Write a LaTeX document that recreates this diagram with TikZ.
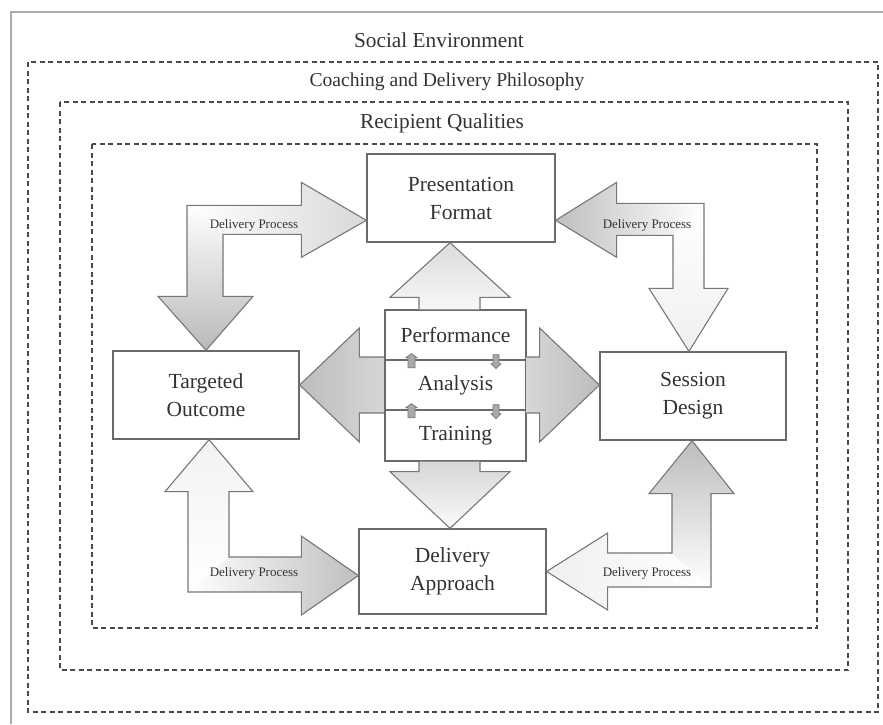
\documentclass[tikz,border=0pt]{standalone}
\usepackage{fontspec}
\setmainfont{Liberation Serif}
\usetikzlibrary{calc}

\definecolor{ink}{HTML}{333333}
\definecolor{edge}{HTML}{6A6A6A}
\definecolor{arrowedge}{HTML}{777777}
\definecolor{framecol}{HTML}{4A4A4A}
\definecolor{rimcol}{HTML}{ABABAB}
\definecolor{markfill}{HTML}{A9A9A9}

\tikzset{
  stagebox/.style={draw=edge, line width=1.3pt, fill=white, inner sep=0pt,
    align=center, text=ink, font=\fontsize{21.5}{28}\selectfont},
  corecell/.style={stagebox, minimum width=141pt},
  layertitle/.style={text=ink, font=\fontsize{21.3}{26}\selectfont, inner sep=0pt},
  dplabel/.style={text=ink, font=\fontsize{13}{15}\selectfont, inner sep=0pt},
  dashframe/.style={draw=framecol, line width=1.8pt, dash pattern=on 5pt off 3.5pt},
  arrowline/.style={draw=arrowedge, line width=1.1pt, line join=miter},
  marklines/.style={draw=arrowedge, fill=markfill, line width=0.8pt},
  upmark/.pic={\path[marklines] (-3.5,7) -- (-3.5,-3) -- (-5.5,-3) -- (0,-7)
      -- (5.5,-3) -- (3.5,-3) -- (3.5,7) -- cycle;},
  downmark/.pic={\path[marklines] (-3,-6) -- (-3,3) -- (-5,3) -- (0,8)
      -- (5,3) -- (3,3) -- (3,-6) -- cycle;},
}

% Elbow arrow built from named points o,h1..h5,i,v1..v5:
% horizontal and vertical limbs carry their own gradient, then one outline.
\newcommand\elbowarrow[2]{%
  \shade[#1] (o) -- (h1) -- (h2) -- (h3) -- (h4) -- (h5) -- (i) -- cycle;
  \shade[#2] (o) -- (i) -- (v1) -- (v2) -- (v3) -- (v4) -- (v5) -- cycle;
  \path[arrowline] (o) -- (h1) -- (h2) -- (h3) -- (h4) -- (h5) -- (i)
    -- (v1) -- (v2) -- (v3) -- (v4) -- (v5) -- cycle;}

\begin{document}
\begin{tikzpicture}[x=1pt,y=-1pt]
\useasboundingbox (0,0) rectangle (883,724);
\fill[white] (0,0) rectangle (883,724);

% outer rim and nested context frames
\draw[rimcol, line width=1.5pt] (883,12) -- (11,12) -- (11,724);
\draw[dashframe] (28,62) rectangle (878,712);
\draw[dashframe] (60,102) rectangle (848,670);
\draw[dashframe] (92,144) rectangle (817,628);

\node[layertitle] (social) at (439,40) {Social Environment};
\node[layertitle, font=\fontsize{19.6}{24}\selectfont] (coaching) at (447,82) {Coaching and Delivery Philosophy};
\node[layertitle] (recipient) at (442,123) {Recipient Qualities};

% stage boxes
\node[stagebox, minimum width=188pt, minimum height=88pt] (pres) at (461,198) {Presentation\\Format};
\node[stagebox, minimum width=186pt, minimum height=88pt] (outc) at (206,395) {Targeted\\Outcome};
\node[stagebox, minimum width=186pt, minimum height=88pt] (sess) at (693,396) {Session\\Design};
\node[stagebox, minimum width=187pt, minimum height=85pt] (dapp) at (452.5,571.5) {Delivery\\Approach};

% central stack
\node[corecell, minimum height=50pt] (perf) at (455.5,335) {Performance};
\node[corecell, minimum height=50pt] (anal) at (455.5,385) {Analysis};
\node[corecell, minimum height=51pt] (train) at (455.5,435.5) {Training};

\coordinate (ax) at (450,0);
\coordinate (ua) at (411.5,0);
\coordinate (da) at (496,0);

% small exchange marks on the dividers
\pic at (perf.south -| ua) {upmark};
\pic at (perf.south -| da) {downmark};
\pic at (anal.south -| ua) {upmark};
\pic at (anal.south -| da) {downmark};

% straight block arrows from the central stack
\coordinate (uB) at (perf.north -| ax);
\coordinate (uT) at (pres.south -| ax);
\shade[top color=gray!28, bottom color=gray!6] ($(uB)+(-31,0)$) -- ($(uB)+(-31,-12)$) -- ($(uB)+(-60,-12)$)
  -- (uT) -- ($(uB)+(60,-12)$) -- ($(uB)+(30,-12)$) -- ($(uB)+(30,0)$) -- cycle;
\path[arrowline] ($(uB)+(-31,0)$) -- ($(uB)+(-31,-12)$) -- ($(uB)+(-60,-12)$)
  -- (uT) -- ($(uB)+(60,-12)$) -- ($(uB)+(30,-12)$) -- ($(uB)+(30,0)$);

\coordinate (dB) at (train.south -| ax);
\coordinate (dT) at (dapp.north -| ax);
\shade[top color=gray!32, bottom color=gray!4] ($(dB)+(-31,0)$) -- ($(dB)+(-31,10)$) -- ($(dB)+(-60,10)$)
  -- (dT) -- ($(dB)+(60,10)$) -- ($(dB)+(30,10)$) -- ($(dB)+(30,0)$) -- cycle;
\path[arrowline] ($(dB)+(-31,0)$) -- ($(dB)+(-31,10)$) -- ($(dB)+(-60,10)$)
  -- (dT) -- ($(dB)+(60,10)$) -- ($(dB)+(30,10)$) -- ($(dB)+(30,0)$);

\coordinate (lB) at (anal.west);
\coordinate (lT) at (anal.west -| outc.east);
\shade[left color=gray!52, right color=gray!32] ($(lB)+(0,-28)$) -- ($(lB)+(-25,-28)$) -- ($(lB)+(-25,-57)$)
  -- (lT) -- ($(lB)+(-25,57)$) -- ($(lB)+(-25,28)$) -- ($(lB)+(0,28)$) -- cycle;
\path[arrowline] ($(lB)+(0,-28)$) -- ($(lB)+(-25,-28)$) -- ($(lB)+(-25,-57)$)
  -- (lT) -- ($(lB)+(-25,57)$) -- ($(lB)+(-25,28)$) -- ($(lB)+(0,28)$);

\coordinate (rB) at (anal.east);
\coordinate (rT) at (anal.east -| sess.west);
\shade[left color=gray!32, right color=gray!52] ($(rB)+(0,-28)$) -- ($(rB)+(13,-28)$) -- ($(rB)+(13,-57)$)
  -- (rT) -- ($(rB)+(13,57)$) -- ($(rB)+(13,28)$) -- ($(rB)+(0,28)$) -- cycle;
\path[arrowline] ($(rB)+(0,-28)$) -- ($(rB)+(13,-28)$) -- ($(rB)+(13,-57)$)
  -- (rT) -- ($(rB)+(13,57)$) -- ($(rB)+(13,28)$) -- ($(rB)+(0,28)$);

% delivery process loop: elbow arrows between neighbouring stages
\begin{scope}
  \coordinate (h3) at ($(pres.south west)!0.25!(pres.north west)$);
  \coordinate (v3) at (outc.north);
  \coordinate (c) at (v3 |- h3);
  \coordinate (o)  at ($(c)+(-19,-15)$);
  \coordinate (h1) at ($(h3)+(-65,-15)$);
  \coordinate (h2) at ($(h3)+(-65,-38)$);
  \coordinate (h4) at ($(h3)+(-65,37)$);
  \coordinate (h5) at ($(h3)+(-65,14)$);
  \coordinate (i)  at ($(c)+(17,14)$);
  \coordinate (v1) at ($(v3)+(17,-54)$);
  \coordinate (v2) at ($(v3)+(47,-54)$);
  \coordinate (v4) at ($(v3)+(-48,-54)$);
  \coordinate (v5) at ($(v3)+(-19,-54)$);
  \elbowarrow{left color=white, right color=gray!30}{top color=white, bottom color=gray!55}
  \node[dplabel] (dpnw) at (254,225) {Delivery Process};
\end{scope}

\begin{scope}
  \coordinate (h3) at ($(pres.south east)!0.25!(pres.north east)$);
  \coordinate (v3) at ($(sess.north)+(-4,0)$);
  \coordinate (c) at (v3 |- h3);
  \coordinate (o)  at ($(c)+(15,-17)$);
  \coordinate (h1) at ($(h3)+(61,-17)$);
  \coordinate (h2) at ($(h3)+(61,-38)$);
  \coordinate (h4) at ($(h3)+(61,37)$);
  \coordinate (h5) at ($(h3)+(61,15)$);
  \coordinate (i)  at ($(c)+(-16,15)$);
  \coordinate (v1) at ($(v3)+(-16,-63)$);
  \coordinate (v2) at ($(v3)+(-40,-63)$);
  \coordinate (v4) at ($(v3)+(39,-63)$);
  \coordinate (v5) at ($(v3)+(15,-63)$);
  \elbowarrow{left color=gray!50, right color=white}{top color=white, bottom color=gray!12}
  \node[dplabel] (dpne) at (647,225) {Delivery Process};
\end{scope}

\begin{scope}
  \coordinate (v3) at ($(outc.south)+(3,0)$);
  \coordinate (h3) at ($(dapp.west)+(0,4)$);
  \coordinate (c) at (v3 |- h3);
  \coordinate (o)  at ($(c)+(-21,16.5)$);
  \coordinate (h1) at ($(h3)+(-57,16.5)$);
  \coordinate (h2) at ($(h3)+(-57,39.5)$);
  \coordinate (h4) at ($(h3)+(-57,-39.5)$);
  \coordinate (h5) at ($(h3)+(-57,-18.5)$);
  \coordinate (i)  at ($(c)+(20,-18.5)$);
  \coordinate (v1) at ($(v3)+(20,52)$);
  \coordinate (v2) at ($(v3)+(44,52)$);
  \coordinate (v4) at ($(v3)+(-44,52)$);
  \coordinate (v5) at ($(v3)+(-21,52)$);
  \elbowarrow{left color=white, right color=gray!50}{top color=gray!10, bottom color=white}
  \node[dplabel] (dpsw) at (254,573) {Delivery Process};
\end{scope}

\begin{scope}
  \coordinate (v3) at ($(sess.south)+(-1,0)$);
  \coordinate (h3) at (dapp.east);
  \coordinate (c) at (v3 |- h3);
  \coordinate (o)  at ($(c)+(19,15.5)$);
  \coordinate (h1) at ($(h3)+(61,15.5)$);
  \coordinate (h2) at ($(h3)+(61,38.5)$);
  \coordinate (h4) at ($(h3)+(61,-38.5)$);
  \coordinate (h5) at ($(h3)+(61,-18.5)$);
  \coordinate (i)  at ($(c)+(-20,-18.5)$);
  \coordinate (v1) at ($(v3)+(-20,53)$);
  \coordinate (v2) at ($(v3)+(-43,53)$);
  \coordinate (v4) at ($(v3)+(42,53)$);
  \coordinate (v5) at ($(v3)+(19,53)$);
  \elbowarrow{left color=gray!12, right color=white}{top color=gray!52, bottom color=white}
  \node[dplabel] (dpse) at (647,573) {Delivery Process};
\end{scope}
\end{tikzpicture}
\end{document}
